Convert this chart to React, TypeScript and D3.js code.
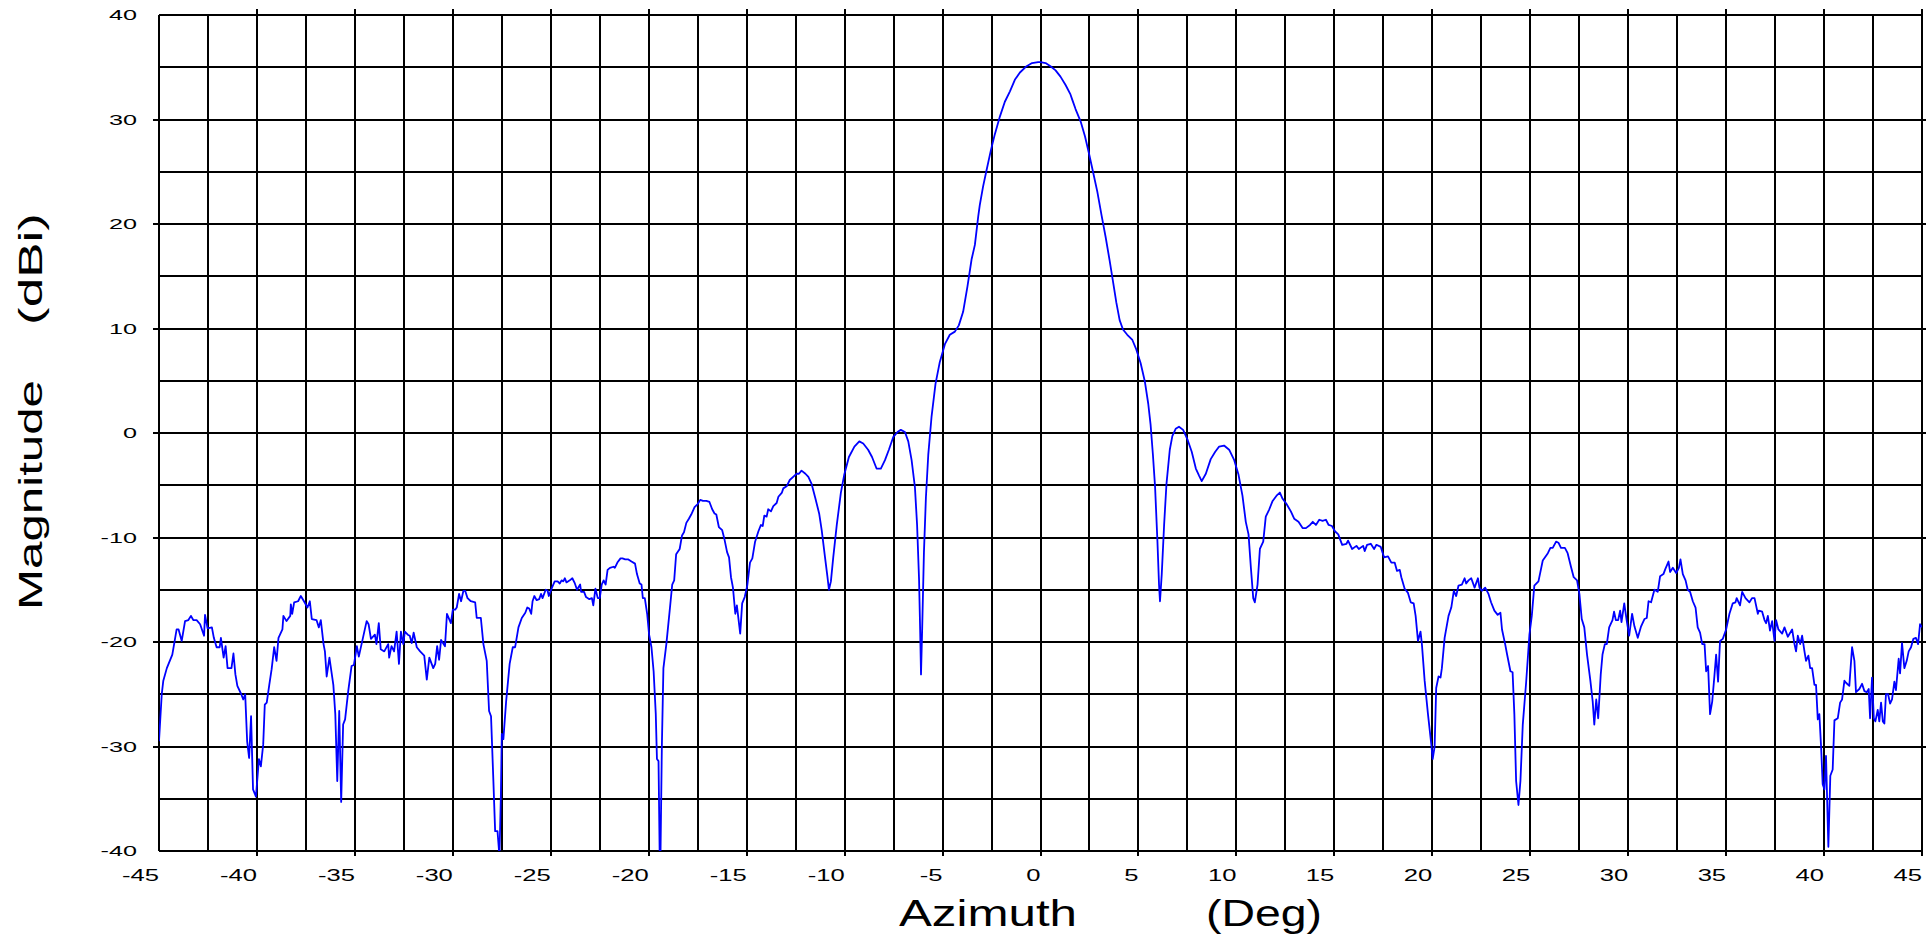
import * as d3 from "d3";

// azimuth grid / tick values
const xTicks = [-45, -40, -35, -30, -25, -20, -15, -10, -5, 0, 5, 10, 15, 20, 25, 30, 35, 40, 45];
const yTicks = [-40, -30, -20, -10, 0, 10, 20, 30, 40];

const segWestFar: [number, number][] = [
  [-45.0, -29.5], [-44.86, -25.0], [-44.78, -23.7], [-44.6, -22.5], [-44.32, -21.2], [-44.2, -19.9],
  [-44.1, -18.8], [-44.0, -18.8], [-43.84, -19.9], [-43.67, -18.0], [-43.5, -17.9], [-43.37, -17.5],
  [-43.25, -17.9], [-43.08, -17.9], [-42.9, -18.3], [-42.7, -19.4], [-42.65, -17.4], [-42.52, -18.7],
  [-42.3, -18.6], [-42.2, -19.6], [-42.06, -20.5], [-41.9, -20.5], [-41.84, -19.6], [-41.7, -21.5],
  [-41.6, -20.4], [-41.5, -22.5], [-41.3, -22.5], [-41.2, -21.1], [-41.1, -23.1], [-41.0, -24.2],
  [-40.8, -25.0], [-40.7, -25.5], [-40.6, -25.0], [-40.5, -29.5], [-40.4, -31.1], [-40.3, -27.1],
  [-40.2, -34.1], [-40.05, -34.8], [-39.9, -31.2], [-39.8, -31.9], [-39.68, -29.8], [-39.6, -26.0],
  [-39.5, -25.8], [-39.37, -24.1], [-39.25, -22.6], [-39.12, -20.5], [-39.0, -21.8], [-38.9, -19.6],
  [-38.7, -18.8], [-38.65, -17.5], [-38.49, -18.0], [-38.3, -17.5], [-38.27, -16.4], [-38.2, -17.3],
  [-38.1, -16.2], [-37.9, -16.1], [-37.76, -15.6], [-37.6, -16.1], [-37.42, -16.7], [-37.3, -16.1],
  [-37.2, -17.8], [-36.96, -17.9], [-36.84, -18.6], [-36.74, -17.9], [-36.6, -20.2], [-36.53, -20.9],
  [-36.44, -23.3], [-36.3, -21.5], [-36.1, -24.1], [-36.0, -26.9], [-35.9, -33.3], [-35.8, -26.6],
  [-35.7, -35.3], [-35.6, -27.9], [-35.5, -27.4], [-35.34, -24.7], [-35.17, -22.3], [-35.05, -22.2],
  [-34.9, -20.4], [-34.8, -21.4], [-34.6, -19.7], [-34.4, -18.0], [-34.3, -18.3], [-34.18, -19.7],
  [-33.98, -19.3], [-33.9, -20.2], [-33.78, -18.2], [-33.68, -20.7], [-33.5, -20.9], [-33.3, -20.2],
  [-33.25, -21.5], [-33.13, -20.4], [-33.0, -20.9], [-32.87, -19.0], [-32.75, -22.1], [-32.65, -19.0],
  [-32.53, -20.2], [-32.45, -19.0], [-32.3, -19.3], [-32.2, -19.4], [-32.1, -20.1], [-32.0, -19.1],
  [-31.84, -20.5], [-31.67, -20.9], [-31.46, -21.3], [-31.33, -23.6], [-31.2, -21.5], [-31.0, -22.5],
  [-30.9, -22.1], [-30.8, -20.4], [-30.7, -21.7], [-30.6, -19.8], [-30.4, -20.4], [-30.3, -17.3],
  [-30.1, -18.2],
];

const segWestNear: [number, number][] = [
  [-30.0, -16.9], [-29.88, -16.9], [-29.8, -16.7], [-29.68, -15.4], [-29.58, -16.1], [-29.46, -15.1],
  [-29.37, -15.1], [-29.25, -15.8], [-29.08, -16.1], [-28.86, -16.2], [-28.78, -17.7], [-28.57, -17.7],
  [-28.44, -20.2], [-28.27, -21.8], [-28.15, -26.6], [-28.05, -27.1], [-27.93, -33.3], [-27.84, -38.1],
  [-27.72, -38.1], [-27.62, -40.5], [-27.55, -34.9], [-27.5, -28.8], [-27.42, -29.3], [-27.28, -25.7],
  [-27.1, -22.1], [-26.94, -20.5], [-26.82, -20.5], [-26.65, -18.6], [-26.48, -17.7], [-26.3, -17.2],
  [-26.2, -16.7], [-26.1, -16.8], [-26.0, -17.3], [-25.93, -16.1], [-25.84, -15.6], [-25.72, -16.0],
  [-25.59, -15.9], [-25.5, -15.4], [-25.42, -15.8], [-25.26, -15.0], [-25.16, -15.1], [-25.1, -15.6],
  [-24.96, -14.9], [-24.8, -14.2], [-24.65, -14.2], [-24.54, -14.4], [-24.45, -14.1], [-24.36, -14.2],
  [-24.28, -13.9], [-24.2, -14.3], [-24.03, -14.1], [-23.9, -13.9], [-23.77, -14.4], [-23.66, -15.0],
  [-23.5, -14.5], [-23.45, -15.2], [-23.3, -15.2], [-23.2, -15.7], [-23.03, -15.9], [-22.9, -15.8],
  [-22.83, -16.5], [-22.72, -14.9], [-22.6, -15.8], [-22.5, -15.8], [-22.4, -14.5], [-22.3, -14.1],
  [-22.2, -14.5], [-22.1, -13.1], [-21.98, -12.9], [-21.8, -12.8], [-21.73, -12.9], [-21.6, -12.4],
  [-21.44, -12.0], [-21.34, -12.0], [-21.2, -12.1], [-21.04, -12.1], [-20.88, -12.3], [-20.7, -12.5],
  [-20.6, -13.5], [-20.46, -14.4], [-20.37, -14.5], [-20.3, -15.8], [-20.2, -15.8], [-20.08, -17.3],
  [-19.98, -19.3], [-19.86, -20.5], [-19.75, -22.8], [-19.64, -26.9], [-19.58, -31.2], [-19.5, -31.4],
  [-19.44, -40.5], [-19.4, -40.5], [-19.33, -30.1], [-19.25, -22.5], [-19.1, -20.2], [-18.93, -17.0],
  [-18.8, -14.5], [-18.7, -14.1], [-18.6, -11.6], [-18.42, -11.1], [-18.3, -9.8], [-18.2, -9.5],
  [-18.08, -8.6], [-17.95, -8.2], [-17.83, -7.8], [-17.66, -7.1], [-17.5, -6.8], [-17.37, -6.4],
  [-17.23, -6.5], [-17.06, -6.5], [-16.9, -6.6], [-16.76, -7.3], [-16.64, -7.7], [-16.55, -7.8],
  [-16.42, -9.0], [-16.25, -9.3], [-16.13, -10.2], [-16.0, -11.4], [-15.9, -11.9], [-15.8, -13.8],
  [-15.7, -14.8], [-15.58, -17.3], [-15.5, -16.5], [-15.33, -19.2], [-15.23, -16.3], [-15.1, -15.7],
];

const segMainWest: [number, number][] = [
  [-14.97, -14.6], [-14.83, -12.4], [-14.71, -12.0], [-14.57, -10.4], [-14.4, -9.4], [-14.27, -8.8],
  [-14.18, -8.9], [-14.1, -7.9], [-13.98, -8.0], [-13.9, -7.3], [-13.76, -7.5], [-13.64, -7.0],
  [-13.47, -6.7], [-13.38, -6.1], [-13.2, -5.7], [-13.13, -5.3], [-12.96, -5.1], [-12.8, -4.5],
  [-12.57, -4.1], [-12.45, -3.9], [-12.33, -3.9], [-12.2, -3.6], [-12.0, -3.9], [-11.85, -4.2],
  [-11.68, -4.9], [-11.5, -6.2], [-11.3, -7.7], [-11.17, -9.3], [-11.0, -11.9], [-10.88, -13.7],
  [-10.8, -15.0], [-10.7, -14.2], [-10.58, -11.9], [-10.4, -8.8], [-10.19, -5.7], [-10.02, -4.0],
  [-9.78, -2.3], [-9.5, -1.3], [-9.25, -0.8], [-9.05, -1.0], [-8.8, -1.6], [-8.6, -2.3],
  [-8.37, -3.4], [-8.15, -3.4], [-7.94, -2.6], [-7.74, -1.6], [-7.52, -0.4], [-7.3, 0.1],
  [-7.13, 0.3], [-6.92, 0.1], [-6.75, -0.8], [-6.58, -2.6], [-6.41, -5.2], [-6.3, -8.8],
  [-6.2, -14.0], [-6.14, -19.2], [-6.1, -23.1], [-6.04, -18.7], [-5.95, -11.4], [-5.85, -6.2],
  [-5.73, -2.1], [-5.56, 1.6], [-5.36, 4.7], [-5.14, 6.8], [-4.88, 8.5], [-4.63, 9.4],
  [-4.37, 9.7], [-4.17, 10.3], [-3.95, 11.6], [-3.73, 14.0], [-3.56, 16.1], [-3.52, 16.6],
  [-3.35, 18.0], [-3.18, 20.7], [-3.1, 21.8], [-2.93, 23.6], [-2.76, 25.1], [-2.54, 27.0],
  [-2.33, 28.6], [-2.07, 30.3], [-1.82, 31.7], [-1.56, 32.7], [-1.31, 33.8], [-1.05, 34.5],
  [-0.71, 35.1], [-0.43, 35.4], [-0.12, 35.5],
];

const segMainEast: [number, number][] = [
  [0.0, 35.5], [0.26, 35.4], [0.51, 35.1], [0.77, 34.7], [1.02, 34.1], [1.28, 33.3],
  [1.53, 32.4], [1.62, 31.9], [1.79, 31.0], [2.05, 29.8], [2.27, 28.4], [2.47, 26.8],
  [2.68, 25.0], [2.9, 23.1], [3.12, 20.8], [3.32, 18.8], [3.53, 16.5], [3.7, 14.5],
  [3.87, 12.5], [4.04, 10.8], [4.21, 9.9], [4.43, 9.4], [4.69, 8.9], [4.89, 8.0],
  [5.11, 6.7], [5.33, 4.9], [5.5, 2.8], [5.62, 0.8], [5.74, -2.1], [5.85, -5.2],
  [5.97, -10.4], [6.05, -14.5], [6.1, -16.1], [6.19, -13.5], [6.31, -8.8], [6.43, -4.9],
  [6.6, -1.6], [6.73, -0.3], [6.9, 0.4], [7.07, 0.6], [7.28, 0.3], [7.5, -0.6],
  [7.72, -1.8], [7.93, -3.4], [8.1, -4.1], [8.23, -4.6], [8.44, -3.9], [8.69, -2.5],
  [8.92, -1.8], [9.12, -1.3], [9.37, -1.2], [9.63, -1.6], [9.89, -2.6], [10.11, -4.0],
  [10.31, -6.0], [10.48, -8.5], [10.62, -9.7], [10.74, -12.9], [10.86, -15.8], [10.94, -16.2],
  [11.08, -14.5], [11.2, -11.1], [11.37, -10.4], [11.5, -8.0], [11.68, -7.3], [11.85, -6.5],
  [12.05, -6.0], [12.22, -5.7], [12.36, -6.3], [12.56, -6.8], [12.78, -7.5], [12.95, -8.2],
  [13.17, -8.5], [13.38, -9.1], [13.55, -9.1], [13.76, -8.8], [13.9, -8.5], [14.06, -8.8],
  [14.23, -8.3], [14.4, -8.4], [14.57, -8.3], [14.71, -8.8], [14.88, -8.9],
];

const segEastNear: [number, number][] = [
  [15.03, -9.4], [15.2, -9.7], [15.4, -10.7], [15.62, -10.6], [15.7, -10.3], [15.91, -11.1],
  [16.13, -10.8], [16.25, -11.1], [16.47, -10.8], [16.55, -11.3], [16.67, -10.7], [16.86, -10.6],
  [17.03, -11.1], [17.15, -10.7], [17.37, -10.9], [17.54, -11.9], [17.74, -11.8], [17.91, -12.4],
  [18.08, -12.4], [18.2, -13.2], [18.34, -13.1], [18.42, -13.8], [18.59, -14.9], [18.76, -15.3],
  [18.9, -16.2], [19.05, -16.3], [19.15, -17.5], [19.27, -19.9], [19.4, -19.0], [19.47, -20.2],
  [19.61, -23.7], [19.78, -26.9], [19.95, -29.8], [20.02, -31.2], [20.12, -30.0], [20.2, -24.4],
  [20.32, -23.3], [20.42, -23.4], [20.49, -22.5], [20.63, -19.6], [20.83, -17.5], [20.97, -16.7],
  [21.1, -15.1], [21.22, -15.6], [21.34, -14.6], [21.51, -14.5], [21.65, -13.9], [21.73, -14.4],
  [21.85, -14.1], [21.99, -13.9], [22.16, -14.8], [22.33, -13.9], [22.41, -14.8], [22.53, -15.1],
  [22.7, -14.8], [22.87, -15.4], [23.0, -16.2], [23.17, -17.0], [23.34, -17.4], [23.48, -17.2],
  [23.56, -18.8], [23.72, -20.2], [23.82, -21.2], [23.99, -22.8], [24.1, -22.9], [24.19, -26.9],
  [24.28, -33.3], [24.4, -35.6], [24.5, -33.3], [24.62, -27.9], [24.79, -23.9], [24.96, -19.3],
  [25.08, -17.5], [25.21, -14.6], [25.42, -14.2], [25.64, -12.2], [25.9, -11.5], [26.03, -11.0],
  [26.15, -11.0], [26.32, -10.4], [26.44, -10.5], [26.57, -11.0], [26.77, -11.0], [26.91, -11.5],
  [27.08, -12.8], [27.22, -13.8], [27.39, -14.1], [27.51, -15.4], [27.63, -17.8], [27.76, -18.6],
  [27.9, -21.2], [28.07, -23.7], [28.19, -25.7], [28.27, -27.9], [28.37, -25.5], [28.47, -27.3],
  [28.6, -23.1], [28.69, -21.2], [28.81, -20.2], [28.91, -20.2], [29.03, -18.6], [29.2, -17.9],
  [29.28, -17.1], [29.37, -17.9], [29.49, -17.9], [29.59, -17.0], [29.66, -18.1], [29.8, -16.3],
  [29.93, -18.0], [30.05, -19.4],
];

const segEastFar: [number, number][] = [
  [30.2, -17.3], [30.32, -18.5], [30.49, -19.6], [30.66, -18.5], [30.83, -17.8], [30.95, -17.7],
  [31.04, -16.1], [31.17, -16.2], [31.34, -15.0], [31.51, -15.2], [31.63, -13.7], [31.8, -13.5],
  [31.9, -13.0], [32.06, -12.3], [32.14, -13.3], [32.28, -12.9], [32.45, -13.4], [32.59, -12.9],
  [32.67, -12.1], [32.79, -13.5], [32.93, -14.1], [33.04, -15.0], [33.16, -15.2], [33.3, -16.1],
  [33.44, -16.7], [33.55, -18.6], [33.67, -19.1], [33.78, -20.2], [33.9, -20.2], [33.98, -22.8],
  [34.08, -22.3], [34.18, -26.9], [34.29, -25.7], [34.4, -23.3], [34.49, -21.2], [34.59, -23.8],
  [34.69, -19.9], [34.83, -19.7], [35.0, -18.8], [35.17, -17.3], [35.34, -16.3], [35.48, -16.2],
  [35.54, -15.8], [35.71, -16.5], [35.82, -15.2], [35.99, -15.8], [36.19, -16.2], [36.33, -15.8],
  [36.45, -15.8], [36.62, -17.3], [36.67, -17.0], [36.84, -17.1], [36.96, -17.9], [37.04, -18.2],
  [37.13, -17.5], [37.24, -18.9], [37.35, -18.0], [37.47, -19.9], [37.55, -17.9], [37.67, -18.8],
  [37.86, -19.2], [37.98, -18.6], [38.15, -19.5], [38.37, -18.8], [38.49, -20.2], [38.57, -20.9],
  [38.66, -19.4], [38.78, -20.2], [38.88, -19.4], [39.0, -20.9], [39.08, -21.8], [39.2, -21.3],
  [39.29, -22.5], [39.39, -22.5], [39.51, -24.1], [39.59, -24.1], [39.68, -27.4], [39.76, -26.9],
  [39.85, -30.1], [39.93, -33.6], [40.02, -34.1], [40.1, -30.9], [40.22, -39.6], [40.32, -32.8],
  [40.44, -32.2], [40.53, -27.5], [40.7, -27.3], [40.82, -25.8], [40.92, -25.5], [41.04, -23.7],
  [41.12, -23.9], [41.29, -24.2], [41.43, -20.5], [41.55, -21.8], [41.63, -24.8], [41.8, -24.5],
  [41.94, -24.0], [42.06, -24.7], [42.18, -24.8], [42.28, -24.5], [42.35, -27.3], [42.45, -23.4],
  [42.54, -27.3], [42.62, -27.6], [42.74, -26.5], [42.82, -27.6], [42.91, -25.8], [43.0, -27.6],
  [43.08, -27.8], [43.16, -25.0], [43.27, -25.0], [43.37, -25.9], [43.47, -25.5], [43.59, -23.8],
  [43.67, -24.6], [43.81, -21.6], [43.88, -23.0], [43.98, -20.1], [44.1, -22.5], [44.22, -21.8],
  [44.32, -20.9], [44.44, -20.5], [44.56, -19.7], [44.69, -19.6], [44.8, -20.2], [44.9, -18.3],
  [45.0, -18.6],
];

const FONT = "'Liberation Sans', Arial, Helvetica, sans-serif";

export default function App() {
  const width = 1926;
  const height = 938;
  const plot = { left: 159, right: 1922, top: 15, bottom: 851 };

  const x = d3.scaleLinear().domain([-45, 45]).range([plot.left, plot.right]);
  const y = d3.scaleLinear().domain([-40, 40]).range([plot.bottom, plot.top]);

  const data = [...segWestFar, ...segWestNear, ...segMainWest, ...segMainEast, ...segEastNear, ...segEastFar];
  const line = d3.line<[number, number]>().x((d) => x(d[0])).y((d) => y(d[1]));

  const xGrid = d3.range(-45, 45.001, 2.5);
  const yGrid = d3.range(-40, 40.001, 5);
  const tick = 6;

  return (
    <svg
      width={width}
      height={height}
      style={{ position: "absolute", left: 0, top: 0, display: "block", background: "#fff" }}
    >
      <defs>
        <clipPath id="plot-area">
          <rect x={plot.left} y={plot.top} width={plot.right - plot.left} height={plot.bottom - plot.top} />
        </clipPath>
      </defs>
      <rect x={0} y={0} width={width} height={height} fill="#fff" />

      {/* grid */}
      <g stroke="#000" strokeWidth={2} shapeRendering="crispEdges">
        {xGrid.map((g) => (
          <line key={"vx" + g} x1={x(g)} x2={x(g)} y1={plot.top} y2={plot.bottom} />
        ))}
        {yGrid.map((g) => (
          <line key={"hy" + g} x1={plot.left} x2={plot.right} y1={y(g)} y2={y(g)} />
        ))}
        {/* major ticks */}
        {xTicks.filter((t) => t !== -45).map((t) => (
          <g key={"tx" + t}>
            <line x1={x(t)} x2={x(t)} y1={plot.top - tick} y2={plot.top} />
            <line x1={x(t)} x2={x(t)} y1={plot.bottom} y2={plot.bottom + tick - 1} />
          </g>
        ))}
        {yTicks.filter((t) => t !== -40 && t !== 40).map((t) => (
          <g key={"ty" + t}>
            <line x1={plot.left - tick} x2={plot.left} y1={y(t)} y2={y(t)} />
            <line x1={plot.right} x2={plot.right + tick} y1={y(t)} y2={y(t)} />
          </g>
        ))}
      </g>

      {/* pattern trace */}
      <path
        d={line(data) ?? ""}
        fill="none"
        stroke="#0000ff"
        strokeWidth={1.8}
        strokeLinejoin="round"
        clipPath="url(#plot-area)"
      />

      {/* tick labels */}
      <g fontFamily={FONT} fill="#000">
        {xTicks.map((t) => (
          <text key={"lx" + t} transform={`translate(${x(t)},881) scale(1.6,1)`} textAnchor="end" fontSize={16}>
            {t}
          </text>
        ))}
        {yTicks.map((t) => (
          <text key={"ly" + t} transform={`translate(137,${y(t) + 5.3}) scale(1.68,1)`} textAnchor="end" fontSize={15}>
            {t}
          </text>
        ))}
      </g>

      {/* axis titles */}
      <g fontFamily={FONT} fill="#000">
        <text x={899} y={926} fontSize={36} textLength={178} lengthAdjust="spacingAndGlyphs">
          Azimuth
        </text>
        <text x={1206} y={926} fontSize={36} textLength={116} lengthAdjust="spacingAndGlyphs">
          (Deg)
        </text>
        <g transform="translate(42,610) rotate(-90)">
          <text x={0} y={0} fontSize={33} textLength={230} lengthAdjust="spacingAndGlyphs">
            Magnitude
          </text>
          <text x={285} y={0} fontSize={33} textLength={112} lengthAdjust="spacingAndGlyphs">
            (dBi)
          </text>
        </g>
      </g>
    </svg>
  );
}
